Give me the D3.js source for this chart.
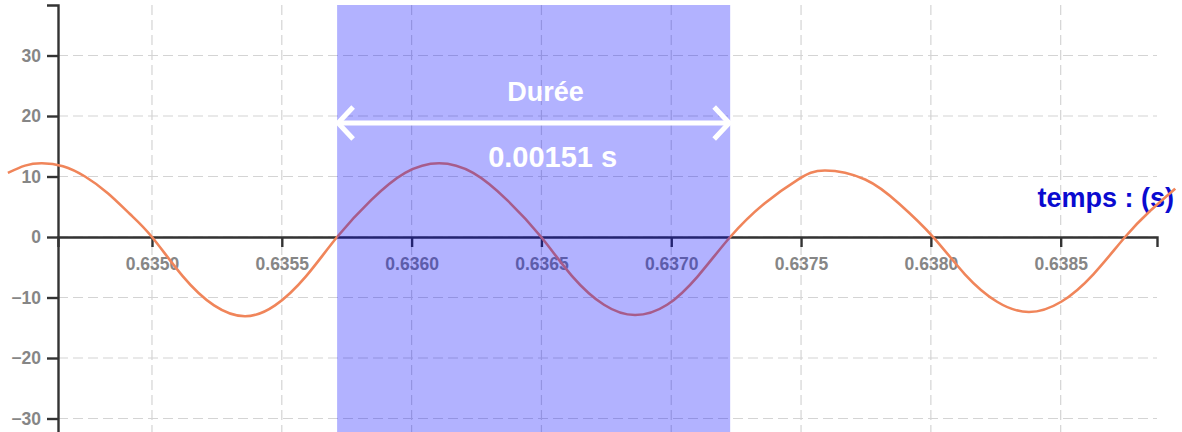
<!DOCTYPE html>
<html>
  <head>
  <script src="https://cdn.jsdelivr.net/npm/d3@7"></script>
 </head>
  <body style="margin:0">
    <div id="chart"></div>
<style>
body { background: white; }
.grid line {
  stroke: #d4d4d4;
  stroke-width: 1.2;
  stroke-dasharray: 10,5;
}
.axis path, .axis line {
  stroke: #333;
  stroke-width: 2.4;
}
.axis text {
  fill: #868686;
  font-family: "Liberation Sans", Arial, sans-serif;
  font-weight: bold;
  font-size: 17.5px;
}
</style>

    <script type="text/javascript">

// signal (time in s, amplitude)
var times = [0.634445, 0.634511, 0.634576, 0.634657, 0.634742, 0.634831, 0.634915,
             0.635000, 0.635119, 0.635239, 0.635358, 0.635474, 0.635593,
             0.635713, 0.635844, 0.635975, 0.636106, 0.636237, 0.636368,
             0.636499, 0.636618, 0.636741, 0.636861, 0.636984, 0.637103,
             0.637227, 0.637358, 0.637488, 0.637592, 0.637747, 0.637878,
             0.638009, 0.638132, 0.638255, 0.638378, 0.638502, 0.638625,
             0.638748, 0.638844, 0.638941];
var values = [10.6, 11.8, 12.2, 11.7, 10.0, 7.2, 3.8,
              0, -6.5, -11.3, -13.1, -11.3, -6.5,
              0, 6.1, 10.6, 12.2, 10.6, 6.1,
              0, -6.45, -11.2, -12.9, -11.2, -6.45,
              0, 5.5, 9.5, 11.0, 9.5, 5.5,
              0, -6.2, -10.7, -12.4, -10.7, -6.2,
              0, 4.3, 8.0];

var xTicks = [0.6350, 0.6355, 0.6360, 0.6365, 0.6370, 0.6375, 0.6380, 0.6385];
var yTicks = [-30, -20, -10, 0, 10, 20, 30];
var xDomain = [0.634638, 0.638871];
var yDomain = [-40, 38.35];

var bandStart = 0.635713,
    bandEnd = 0.637227;
var bandTitle = "Durée",
    bandLabel = "0.00151 s",
    xLabel = "temps : (s)";

var w = 1182,
    h = 432;

var svg = d3.select("#chart").append("svg")
    .attr("width", w)
    .attr("height", h)
    .style("display", "block");

var x = d3.scaleLinear()
    .domain(xDomain)
    .range([58, 1157]);

var y = d3.scaleLinear()
    .domain(yDomain)
    .range([479, 5]);

// grid
var grid = svg.append("g").attr("class", "grid");
grid.selectAll("line.h").data(yTicks)
  .enter().append("line")
    .attr("class", "h")
    .attr("x1", x.range()[0])
    .attr("x2", x.range()[1])
    .attr("y1", function(d) { return y(d); })
    .attr("y2", function(d) { return y(d); });
grid.selectAll("line.v").data(xTicks)
  .enter().append("line")
    .attr("class", "v")
    .attr("x1", function(d) { return x(d); })
    .attr("x2", function(d) { return x(d); })
    .attr("y1", y.range()[1])
    .attr("y2", y.range()[0]);

// axes
svg.append("g")
    .attr("class", "axis")
    .attr("transform", "translate(0," + y(0) + ")")
    .call(d3.axisBottom(x).tickValues(xTicks).tickSize(10).tickPadding(11)
      .tickFormat(d3.format(".4f")));

svg.append("g")
    .attr("class", "axis")
    .attr("transform", "translate(" + x.range()[0] + ",0)")
    .call(d3.axisLeft(y).tickValues(yTicks).tickSize(11).tickPadding(6));

svg.append("text")
    .attr("x", 1174)
    .attr("y", 207)
    .attr("text-anchor", "end")
    .style("font-family", "'Liberation Sans', Arial, sans-serif")
    .style("font-weight", "bold")
    .style("font-size", "27px")
    .style("fill", "#0a0ad0")
    .text(xLabel);

// signal
var pts = times.map(function(t, i) { return [t, values[i]]; });
var line = d3.line()
    .x(function(d) { return x(d[0]); })
    .y(function(d) { return y(d[1]); })
    .curve(d3.curveNatural);

svg.append("path")
    .datum(pts)
    .attr("d", line)
    .style("fill", "none")
    .style("stroke", "#f0855a")
    .style("stroke-width", 2.6);

// highlighted duration
svg.append("rect")
    .attr("x", x(bandStart))
    .attr("y", y.range()[1])
    .attr("width", x(bandEnd) - x(bandStart))
    .attr("height", h)
    .style("fill", "blue")
    .style("opacity", 0.3);

var ay = 123,
    x0 = x(bandStart),
    x1 = x(bandEnd),
    head = 16;

var arrow = svg.append("g")
    .style("fill", "none")
    .style("stroke", "white")
    .style("stroke-width", 5)
    .style("stroke-linecap", "butt");
arrow.append("line")
    .attr("x1", x0 + 2).attr("x2", x1 - 2)
    .attr("y1", ay).attr("y2", ay);
arrow.append("path")
    .attr("d", "M" + (x0 + head) + "," + (ay - head) + "L" + (x0 + 1) + "," + ay + "L" + (x0 + head) + "," + (ay + head));
arrow.append("path")
    .attr("d", "M" + (x1 - head) + "," + (ay - head) + "L" + (x1 - 1) + "," + ay + "L" + (x1 - head) + "," + (ay + head));

svg.append("text")
    .attr("x", (x0 + x1) / 2 + 12)
    .attr("y", 101)
    .attr("text-anchor", "middle")
    .style("font-family", "'Liberation Sans', Arial, sans-serif")
    .style("font-weight", "bold")
    .style("font-size", "27px")
    .style("fill", "white")
    .text(bandTitle);

svg.append("text")
    .attr("x", (x0 + x1) / 2 + 19)
    .attr("y", 167)
    .attr("text-anchor", "middle")
    .style("font-family", "'Liberation Sans', Arial, sans-serif")
    .style("font-weight", "bold")
    .style("font-size", "29px")
    .style("fill", "white")
    .text(bandLabel);

    </script>
  </body>
</html>
